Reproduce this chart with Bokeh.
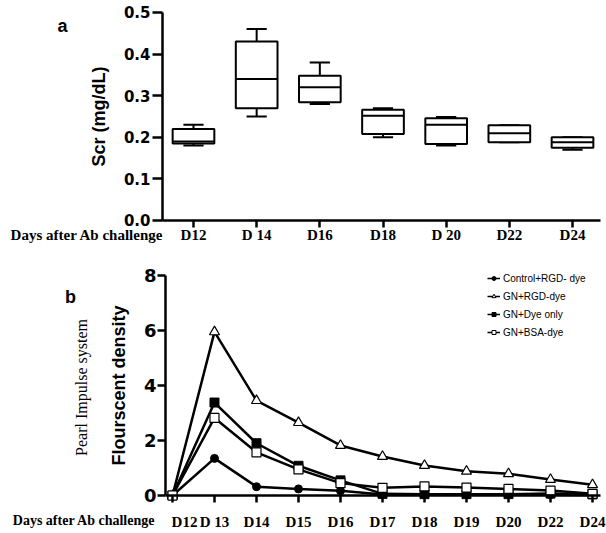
import math
from bokeh.plotting import figure
from bokeh.layouts import column
from bokeh.models import (FixedTicker, Label, Legend, LegendItem, ColumnDataSource, LinearAxis)
from bokeh.embed import file_html
from bokeh.resources import INLINE

# ---------------- data: panel a (box plot of serum creatinine) ----------------
days_a = ["D12", "D 14", "D16", "D18", "D 20", "D22", "D24"]
scr_low = [0.18, 0.25, 0.28, 0.20, 0.18, 0.188, 0.17]
scr_q1 = [0.185, 0.27, 0.284, 0.208, 0.184, 0.188, 0.175]
scr_median = [0.19, 0.34, 0.32, 0.252, 0.23, 0.21, 0.188]
scr_q3 = [0.22, 0.43, 0.348, 0.266, 0.246, 0.229, 0.20]
scr_high = [0.23, 0.46, 0.38, 0.27, 0.249, 0.229, 0.20]
yticks_a = [0.0, 0.1, 0.2, 0.3, 0.4, 0.5]

# ---------------- data: panel b (fluorescent density) ----------------
days_b = ["D12", "D 13", "D14", "D15", "D16", "D17", "D18", "D19", "D20", "D22", "D24"]
control_rgd = [0.0, 1.35, 0.32, 0.24, 0.17, 0.04, 0.04, 0.03, 0.03, 0.03, 0.02]
gn_rgd = [0.0, 5.95, 3.45, 2.65, 1.82, 1.42, 1.09, 0.88, 0.79, 0.58, 0.39]
gn_dye_only = [0.0, 3.38, 1.9, 1.08, 0.55, 0.06, 0.05, 0.05, 0.05, 0.07, 0.04]
gn_bsa = [0.0, 2.82, 1.57, 0.95, 0.45, 0.28, 0.33, 0.29, 0.24, 0.18, 0.06]
yticks_b = [0, 2, 4, 6, 8]

SERIF = "Liberation Serif"
SANS = "Liberation Sans"
BOLDSANS = "DejaVu Sans"
W = 606

def style_axis(ax, font, size, tick_out=7, bold=True):
    ax.axis_line_width = 2.5
    ax.major_tick_line_width = 2.5
    ax.major_tick_out = tick_out
    ax.major_tick_in = 0
    ax.minor_tick_line_color = None
    ax.major_label_text_font = font
    ax.major_label_text_font_style = "bold" if bold else "normal"
    ax.major_label_text_font_size = size
    ax.major_label_text_color = "black"

# ================= panel a =================
HA = 246
A_X0, A_X1 = -3.055, 6.538
A_Y0, A_Y1 = -0.0625, 0.5288
A_YAX = -0.491      # where the y axis sits
A_XEND = 6.443      # end of the x axis line

def ax_x(px):
    return A_X0 + px * (A_X1 - A_X0) / W

def ax_y(py):
    return A_Y1 - py * (A_Y1 - A_Y0) / HA

xa = list(range(len(days_a)))
pa = figure(width=W, height=HA, output_backend="svg", toolbar_location=None,
            x_range=(A_X0, A_X1), y_range=(A_Y0, A_Y1),
            x_axis_location=None, y_axis_location=None, min_border=0)
pa.outline_line_color = None
pa.grid.visible = False

src_a = ColumnDataSource(dict(
    x=xa, low=scr_low, q1=scr_q1, med=scr_median, q3=scr_q3, high=scr_high,
    cap0=[x - 0.16 for x in xa], cap1=[x + 0.16 for x in xa],
    box0=[x - 0.33 for x in xa], box1=[x + 0.33 for x in xa]))
pa.segment(x0="x", y0="q3", x1="x", y1="high", source=src_a, line_color="black", line_width=2)
pa.segment(x0="x", y0="low", x1="x", y1="q1", source=src_a, line_color="black", line_width=2)
pa.segment(x0="cap0", y0="high", x1="cap1", y1="high", source=src_a, line_color="black", line_width=2)
pa.segment(x0="cap0", y0="low", x1="cap1", y1="low", source=src_a, line_color="black", line_width=2)
pa.vbar(x="x", bottom="q1", top="q3", width=0.66, source=src_a,
        fill_color="white", line_color="black", line_width=2)
pa.segment(x0="box0", y0="med", x1="box1", y1="med", source=src_a, line_color="black", line_width=2)

xa_axis = LinearAxis(fixed_location=0, bounds=(A_YAX, A_XEND), ticker=FixedTicker(ticks=xa),
                     major_label_overrides={i: d for i, d in zip(xa, days_a)})
style_axis(xa_axis, SERIF, "15px", tick_out=7)
xa_axis.major_label_standoff = 0
pa.add_layout(xa_axis, "below")

ya_axis = LinearAxis(fixed_location=A_YAX, bounds=(0, 0.5), ticker=FixedTicker(ticks=yticks_a),
                     major_label_overrides={t: f"{t:.1f}" for t in yticks_a})
style_axis(ya_axis, BOLDSANS, "15px", tick_out=10)
ya_axis.major_label_standoff = 2
ya_axis.axis_label = "Scr (mg/dL)"
ya_axis.axis_label_text_font = SANS
ya_axis.axis_label_text_font_style = "bold"
ya_axis.axis_label_text_font_size = "18px"
ya_axis.axis_label_text_color = "black"
ya_axis.axis_label_standoff = 12
pa.add_layout(ya_axis, "left")

pa.add_layout(Label(x=ax_x(163), y=ax_y(234), text="Days after Ab challenge",
                    text_align="right", text_baseline="middle", text_font=SERIF,
                    text_font_style="bold", text_font_size="15px", text_color="black"))
pa.add_layout(Label(x=ax_x(62), y=ax_y(25), text="a", text_align="center", text_baseline="middle",
                    text_font=SANS, text_font_style="bold", text_font_size="18px", text_color="black"))

# ================= panel b =================
HB = 287
B_TOP = 246
B_X0, B_X1 = -4.095, 10.333
B_Y0, B_Y1 = -1.3818, 9.0545
B_YAX = -0.167
B_XEND = 10.19

def bx_x(px):
    return B_X0 + px * (B_X1 - B_X0) / W

def bx_y(py):
    return B_Y1 - (py - B_TOP) * (B_Y1 - B_Y0) / HB

xb = list(range(len(days_b)))
pb = figure(width=W, height=HB, output_backend="svg", toolbar_location=None,
            x_range=(B_X0, B_X1), y_range=(B_Y0, B_Y1),
            x_axis_location=None, y_axis_location=None, min_border=0)
pb.outline_line_color = None
pb.grid.visible = False

lw = 2.5
pb.line(xb, control_rgd, line_color="black", line_width=lw)
pb.scatter(xb, control_rgd, marker="circle", size=8, fill_color="black", line_color="black")
pb.line(xb, gn_rgd, line_color="black", line_width=lw)
pb.scatter(xb, gn_rgd, marker="triangle", size=10, fill_color="white", line_color="black", line_width=1.2)
pb.line(xb, gn_dye_only, line_color="black", line_width=lw)
pb.scatter(xb, gn_dye_only, marker="square", size=9, fill_color="black", line_color="black")
pb.line(xb, gn_bsa, line_color="black", line_width=lw)
pb.scatter(xb, gn_bsa, marker="square", size=9, fill_color="white", line_color="black", line_width=1.2)

# the first day label sits a little right of its tick in the original
overrides_b = {i: d for i, d in zip(xb, days_b)}
overrides_b[0] = ""
xb_axis = LinearAxis(fixed_location=0, bounds=(B_YAX, B_XEND), ticker=FixedTicker(ticks=xb),
                     major_label_overrides=overrides_b)
style_axis(xb_axis, SERIF, "15px", tick_out=7)
xb_axis.major_label_standoff = 11
pb.add_layout(xb_axis, "below")
pb.add_layout(Label(x=bx_x(184), y=bx_y(521), text=days_b[0], text_align="center",
                    text_baseline="middle", text_font=SERIF, text_font_style="bold",
                    text_font_size="15px", text_color="black"))

yb_axis = LinearAxis(fixed_location=B_YAX, bounds=(0, 8), ticker=FixedTicker(ticks=yticks_b))
style_axis(yb_axis, BOLDSANS, "18px", tick_out=8)
yb_axis.major_label_standoff = 1
yb_axis.axis_label = "Flourscent density"
yb_axis.axis_label_text_font = SANS
yb_axis.axis_label_text_font_style = "bold"
yb_axis.axis_label_text_font_size = "18px"
yb_axis.axis_label_text_color = "black"
yb_axis.axis_label_standoff = 12
pb.add_layout(yb_axis, "left")

pb.add_layout(Label(x=bx_x(155), y=bx_y(520), text="Days after Ab challenge",
                    text_align="right", text_baseline="middle", text_font=SERIF,
                    text_font_style="bold", text_font_size="14px", text_color="black"))
pb.add_layout(Label(x=bx_x(70), y=bx_y(296), text="b", text_align="center", text_baseline="middle",
                    text_font=SANS, text_font_style="bold", text_font_size="18px", text_color="black"))
pb.add_layout(Label(x=bx_x(81), y=bx_y(387), text="Pearl Impulse system", angle=math.pi / 2,
                    text_align="center", text_baseline="middle", text_font=SERIF,
                    text_font_size="16px", text_color="black"))

# legend glyphs (small markers on a short line), kept outside the visible area
off_x = [B_X0 - 5]
lg_ctrl = pb.scatter(off_x, [0], marker="circle", size=5, fill_color="black", line_color="black")
lg_rgd = pb.scatter(off_x, [0], marker="triangle", size=5, fill_color="white", line_color="black")
lg_dye = pb.scatter(off_x, [0], marker="square", size=4, fill_color="black", line_color="black")
lg_bsa = pb.scatter(off_x, [0], marker="square", size=4, fill_color="white", line_color="black")
lg_line = pb.line([B_X0 - 6, B_X0 - 5], [0, 0], line_color="black", line_width=1.5)

legend = Legend(items=[
    LegendItem(label="Control+RGD- dye", renderers=[lg_line, lg_ctrl]),
    LegendItem(label="GN+RGD-dye", renderers=[lg_line, lg_rgd]),
    LegendItem(label="GN+Dye only", renderers=[lg_line, lg_dye]),
    LegendItem(label="GN+BSA-dye", renderers=[lg_line, lg_bsa]),
], location=(487, 195))
legend.background_fill_alpha = 0
legend.border_line_color = None
legend.label_text_font = SANS
legend.label_text_font_size = "10px"
legend.label_text_color = "black"
legend.glyph_width = 13
legend.glyph_height = 10
legend.label_height = 12
legend.label_standoff = 3
legend.spacing = 6
legend.padding = 0
legend.margin = 0
pb.add_layout(legend)

layout = column(pa, pb, spacing=0)
open("out.html", "w").write(file_html(layout, INLINE))
